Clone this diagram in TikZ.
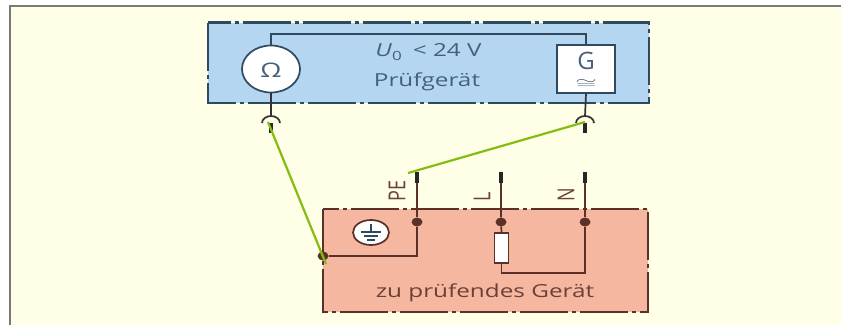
\documentclass[tikz,border=0pt]{standalone}
\usepackage{fontspec}
\setmainfont{Open Sans}
\usetikzlibrary{shapes.geometric}
\definecolor{paper}{HTML}{FFFEE6}
\definecolor{framegray}{HTML}{7A7A72}
\definecolor{testblue}{HTML}{B5D6F0}
\definecolor{devred}{HTML}{F6B7A0}
\definecolor{bluewire}{HTML}{2F4A60}
\definecolor{bluetext}{HTML}{46607A}
\definecolor{redwire}{HTML}{5A3028}
\definecolor{redtext}{HTML}{6B4038}
\definecolor{probegreen}{HTML}{84BD12}
\newcommand{\wide}[1]{\scalebox{1.35}[1]{#1}}
\newcommand{\wideup}[1]{\scalebox{1.3}[1]{\rotatebox{90}{#1}}}
\begin{document}
\begin{tikzpicture}[
    x = 1pt,
    y = -1pt,
    housing/.style = {line width = 2.2pt, dash pattern = on 48pt off 4pt on 4pt off 4pt},
    wire/.style = {line width = 1.7pt},
    plug/.style = {line width = 3.4pt, black!85},
    probe/.style = {line width = 2.2pt, probegreen},
    dot/.style = {ellipse, fill = redwire, inner sep = 0pt, minimum width = 11pt, minimum height = 9pt},
    legend/.style = {font = \fontsize{18}{20}\selectfont, inner sep = 0pt}
  ]
  \useasboundingbox[fill = white] (0, 0) rectangle (841, 325);
  \fill[paper] (10, 5.5) rectangle (841, 325);
  % frame
  \draw[framegray, line width = 2pt] (10, 325) -- (10, 5.5) -- (841, 5.5);
  % tester
  \fill[testblue] (208, 22.5) rectangle (649, 103);
  \draw[housing, bluewire] (208, 22.5) rectangle (649, 103);
  \node[draw = bluewire, fill = white, ellipse, line width = 1.7pt, minimum width = 58pt, minimum height = 47pt, inner sep = 0pt] (ohm) at (271, 69) {};
  \node[legend, text = bluetext, font = \fontsize{20}{22}\selectfont] (ohm-sign) at (271, 70) {\wide{Ω}};
  \node[draw = bluewire, fill = white, line width = 1.7pt, minimum width = 58pt, minimum height = 48pt, inner sep = 0pt] (gen) at (586, 69) {};
  \node[legend, text = bluetext, font = \fontsize{24}{26}\selectfont] (gen-g) at (586, 61) {G};
  \node[legend, text = bluetext] (gen-ac) at (586, 84) {\scalebox{1.6}[0.8]{$\cong$}};
  \node[legend, text = bluetext] (volt) at (428.5, 52) {\wide{\textit{U}\textsubscript{0} \,< 24 V}};
  \node[legend, text = bluetext] (tester) at (427, 82) {\wide{Prüfgerät}};
  \draw[wire, bluewire] (ohm.north) |- (271, 34) -| (gen.north);
  % sockets
  \coordinate (sock-l) at (271, 116);
  \coordinate (sock-r) at (585, 116);
  \draw[wire, black!80] (ohm.south) -- (sock-l);
  \draw[wire, black!80] (gen.south) -- (sock-r);
  \draw[wire, black!80] (262, 123) arc[start angle = 180, end angle = 0, x radius = 9pt, y radius = 7pt];
  \draw[wire, black!80] (576, 123) arc[start angle = 180, end angle = 0, x radius = 9pt, y radius = 7pt];
  \draw[plug] (271, 123) -- (271, 133);
  \draw[plug] (585, 123) -- (585, 133);
  % device
  \fill[devred] (323, 209) rectangle (648, 312);
  \draw[housing, redwire] (323, 209) rectangle (648, 312);
  \coordinate (pe-top) at (417, 172);
  \coordinate (l-top) at (501, 172);
  \coordinate (n-top) at (585, 172);
  \node[dot] (pe-dot) at (417, 222) {};
  \node[dot] (l-dot) at (501, 222) {};
  \node[dot] (n-dot) at (585, 222) {};
  \node[dot] (earth-dot) at (323, 256) {};
  \node[draw = redwire, fill = white, line width = 1.7pt, minimum width = 14pt, minimum height = 30pt, inner sep = 0pt] (load) at (501.5, 248) {};
  \draw[wire, redwire] (pe-top) -- (pe-dot) -- (417, 256) -- (earth-dot);
  \draw[wire, redwire] (l-top) -- (l-dot) -- (load.north);
  \draw[wire, redwire] (n-top) -- (n-dot) -- (585, 273) -| (load.south);
  \draw[plug] (417, 172) -- (417, 183);
  \draw[plug] (501, 172) -- (501, 183);
  \draw[plug] (585, 172) -- (585, 183);
  \node[legend, text = redtext] (pe) at (397, 191) {\wideup{PE}};
  \node[legend, text = redtext] (l) at (482, 197) {\wideup{L}};
  \node[legend, text = redtext] (n) at (566, 195) {\wideup{N}};
  \node[legend, text = redtext] (device) at (485, 293) {\wide{zu prüfendes Gerät}};
  % earth symbol
  \node[draw = redwire, fill = white, ellipse, line width = 1.7pt, minimum width = 36pt, minimum height = 25pt, inner sep = 0pt] (earth) at (371, 232.5) {};
  \draw[wire, bluewire] (371, 224) -- (371, 232);
  \draw[wire, bluewire] (361, 232) -- (381, 232);
  \draw[wire, bluewire] (364, 236) -- (378, 236);
  \draw[wire, bluewire] (367, 240) -- (375, 240);
  % test leads
  \draw[probe] (268, 122) -- (326, 264);
  \draw[probe] (585, 122) -- (408, 173);
\end{tikzpicture}
\end{document}
